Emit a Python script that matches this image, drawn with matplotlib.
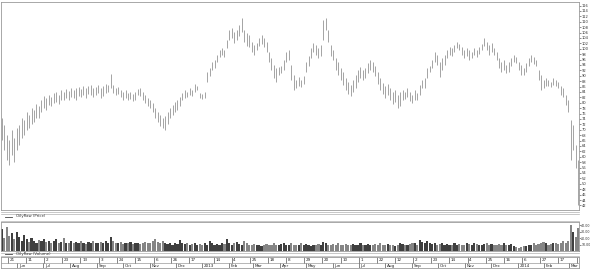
import matplotlib
matplotlib.use("Agg")
import matplotlib.pyplot as plt
import matplotlib.transforms as mtransforms
import numpy as np
import pandas as pd

# price bars, one bar per two trading days (high / low)
highs = [74.3, 71.8, 68.1, 66.2, 69.9, 66.9, 70.6, 71.8, 74.3, 73.6,
         76.6, 75.5, 78.0, 77.3, 79.5, 78.8, 81.0, 82.5, 81.7, 82.9,
         82.1, 83.6, 84.0, 82.9, 84.7, 84.0, 85.1, 84.3, 85.4, 84.7,
         85.4, 85.8, 85.1, 86.2, 85.4, 86.2, 86.6, 85.4, 85.8, 86.6,
         85.4, 86.2, 86.9, 86.6, 90.6, 86.6, 85.4, 85.8, 84.7, 84.0,
         84.7, 83.6, 84.0, 83.2, 84.0, 85.1, 85.4, 84.0, 82.9, 81.7,
         81.0, 79.9, 78.0, 76.6, 75.5, 74.3, 75.1, 76.6, 78.0, 79.2,
         80.3, 81.0, 82.1, 83.6, 84.7, 84.0, 85.4, 84.7, 86.9, 86.2,
         83.6, 83.2, 84.0, 91.4, 92.8, 95.1, 95.8, 97.7, 99.5, 100.2,
         99.5, 103.2, 106.9, 107.6, 106.2, 106.9, 108.8, 111.3, 106.9, 105.8,
         105.1, 102.5, 101.4, 102.1, 103.9, 105.1, 103.9, 102.5, 98.8, 96.5,
         94.0, 92.8, 93.2, 93.6, 95.8, 98.8, 99.5, 94.0, 90.3, 88.4,
         89.5, 88.4, 89.9, 95.1, 97.3, 100.2, 102.1, 101.4, 100.2, 101.4,
         110.6, 111.3, 106.9, 101.4, 99.5, 96.5, 95.1, 92.8, 91.4, 89.1,
         87.7, 86.6, 88.4, 90.3, 92.1, 93.2, 92.1, 92.8, 94.7, 95.8,
         95.1, 93.6, 91.4, 89.1, 87.3, 86.2, 86.9, 85.4, 84.0, 84.7,
         82.9, 84.0, 84.7, 84.0, 85.4, 84.0, 82.9, 84.7, 83.6, 86.6,
         88.4, 89.1, 92.8, 93.6, 95.8, 98.8, 97.7, 95.1, 96.5, 97.7,
         99.5, 100.6, 100.2, 101.4, 102.5, 101.7, 100.6, 99.5, 100.2, 99.5,
         98.8, 100.2, 99.5, 100.6, 101.7, 103.9, 102.5, 101.4, 102.1, 100.2,
         98.8, 96.5, 95.1, 95.8, 94.0, 95.1, 96.5, 97.7, 96.9, 95.1,
         94.0, 92.8, 94.7, 96.5, 97.7, 96.9, 95.8, 92.1, 90.3, 88.4,
         89.1, 88.4, 87.7, 89.1, 88.4, 87.7, 86.2, 85.4, 82.9, 81.0,
         73.6, 71.8, 64.4, 58.8]
lows = [66.2, 62.5, 58.8, 57.0, 60.7, 58.1, 62.5, 64.4, 66.9, 68.1,
        69.9, 70.6, 72.1, 72.9, 74.3, 74.3, 76.6, 78.0, 77.3, 79.2,
        78.8, 79.9, 80.3, 79.5, 81.0, 81.0, 81.7, 81.0, 82.1, 81.7,
        81.0, 82.5, 82.1, 82.9, 81.7, 83.2, 82.9, 82.1, 82.9, 83.6,
        81.7, 82.5, 83.6, 84.0, 85.4, 83.6, 82.9, 83.2, 82.1, 81.0,
        81.7, 81.0, 81.4, 80.6, 81.0, 82.9, 82.5, 81.0, 79.9, 78.8,
        78.0, 76.6, 74.3, 72.9, 71.4, 70.6, 69.9, 72.1, 74.3, 75.5,
        76.6, 77.3, 78.8, 81.0, 81.7, 82.1, 82.9, 82.5, 84.0, 84.7,
        81.7, 81.4, 81.7, 87.7, 89.9, 92.1, 92.8, 95.1, 96.9, 97.7,
        96.9, 100.2, 103.2, 103.9, 102.1, 103.2, 104.7, 106.2, 102.5, 101.0,
        100.6, 98.8, 97.7, 99.5, 101.0, 101.7, 100.6, 98.8, 95.1, 92.1,
        89.1, 87.7, 90.3, 91.0, 92.1, 95.1, 95.8, 88.4, 84.7, 85.4,
        86.2, 85.8, 86.9, 91.4, 93.6, 96.5, 98.8, 97.7, 96.5, 97.3,
        103.2, 106.9, 102.5, 97.3, 95.8, 92.1, 90.3, 88.4, 86.6, 84.7,
        83.2, 82.5, 84.0, 85.4, 87.7, 89.1, 88.4, 89.1, 91.0, 92.1,
        91.4, 89.9, 86.9, 84.7, 83.2, 81.7, 82.9, 81.0, 79.5, 80.3,
        78.0, 78.8, 81.0, 81.4, 82.1, 80.6, 79.9, 81.0, 81.0, 82.9,
        85.4, 85.4, 89.1, 91.4, 92.8, 95.1, 94.0, 89.5, 92.1, 94.0,
        96.5, 97.7, 97.3, 98.8, 100.2, 99.5, 97.7, 96.5, 97.3, 95.8,
        96.5, 97.7, 96.9, 98.0, 99.5, 101.0, 99.5, 97.7, 98.8, 97.7,
        95.8, 92.8, 91.4, 92.1, 91.0, 91.4, 93.6, 95.1, 94.7, 92.1,
        90.3, 90.3, 91.4, 93.6, 95.1, 94.3, 93.6, 88.4, 84.7, 85.4,
        86.2, 86.2, 85.8, 86.6, 86.2, 85.4, 82.9, 82.1, 79.2, 76.6,
        58.8, 62.5, 55.8, 42.2]
# volume, same bars
volumes = [34, 20, 38, 24, 28, 18, 30, 22, 16, 25,
           18, 14, 20, 16, 13, 17, 15, 19, 14, 16,
           13, 15, 18, 12, 14, 20, 13, 12, 15, 13,
           14, 12, 16, 13, 11, 14, 12, 15, 13, 12,
           14, 12, 16, 13, 22, 15, 13, 12, 14, 11,
           13, 12, 14, 11, 12, 13, 11, 12, 14, 12,
           13, 16, 18, 14, 12, 15, 13, 11, 12, 10,
           12, 11, 17, 13, 11, 12, 10, 11, 12, 10,
           11, 9, 12, 10, 16, 12, 10, 11, 9, 12,
           11, 18, 13, 10, 12, 14, 11, 10, 16, 12,
           10, 9, 11, 10, 9, 8, 10, 11, 9, 10,
           12, 10, 9, 11, 13, 10, 9, 12, 10, 9,
           10, 12, 9, 11, 10, 8, 10, 9, 11, 10,
           14, 12, 10, 9, 11, 10, 12, 9, 10, 11,
           10, 9, 11, 10, 9, 12, 10, 9, 11, 10,
           9, 11, 10, 12, 10, 9, 11, 10, 9, 8,
           10, 12, 11, 10, 9, 11, 13, 12, 10, 17,
           14, 12, 16, 13, 11, 12, 10, 11, 12, 10,
           11, 9, 10, 12, 10, 11, 9, 10, 13, 11,
           10, 12, 11, 10, 9, 11, 12, 10, 11, 10,
           9, 11, 10, 12, 9, 10, 11, 8, 6, 5,
           6, 7, 8, 9, 10, 12, 10, 11, 12, 14,
           12, 10, 11, 13, 12, 11, 13, 16, 12, 15,
           41, 30, 22, 35]

start, end = "2012-05-14", "2014-03-12"

day_tick_dates = ["2012-05-21", "2012-06-11", "2012-07-02", "2012-07-23", "2012-08-13",
                  "2012-09-03", "2012-09-24", "2012-10-15", "2012-11-06", "2012-11-26",
                  "2012-12-17", "2013-01-14", "2013-02-04", "2013-02-25", "2013-03-18",
                  "2013-04-08", "2013-04-29", "2013-05-20", "2013-06-10", "2013-07-01",
                  "2013-07-22", "2013-08-12", "2013-09-02", "2013-09-23", "2013-10-14",
                  "2013-11-04", "2013-11-25", "2013-12-16", "2014-01-06", "2014-01-27",
                  "2014-02-17", "2014-03-11"]
day_tick_labels = ["21", "11", "2", "23", "13", "3", "24", "15", "6", "26", "17",
                   "14", "4", "25", "18", "8", "29", "20", "10", "1", "22", "12",
                   "2", "23", "14", "4", "25", "16", "6", "27", "17", "11"]
month_labels = ["Jun", "Jul", "Aug", "Sep", "Oct", "Nov", "Dec", "2013", "Feb", "Mar",
                "Apr", "May", "Jun", "Jul", "Aug", "Sep", "Oct", "Nov", "Dec", "2014",
                "Feb", "Mar"]

dates = pd.date_range(start, end, periods=len(highs))
month_starts = pd.date_range("2012-06-01", periods=len(month_labels), freq="MS")

W, H = 590, 269
GRAY = "#9a9a9a"
RIGHT = 579


def box(x0, y0, x1, y1):
    return [x0 / W, 1 - y1 / H, (x1 - x0) / W, (y1 - y0) / H]


fig = plt.figure(figsize=(W / 100, H / 100), dpi=100)
fig.patch.set_facecolor("white")

ax_p = fig.add_axes(box(1, 2, RIGHT, 210))
ax_v = fig.add_axes(box(1, 222, RIGHT, 251), sharex=ax_p)
ax_d = fig.add_axes(box(1, 257, RIGHT, 268), sharex=ax_p)

xmin, xmax = pd.Timestamp("2012-05-13"), pd.Timestamp("2014-03-13")

# price
ax_p.vlines(dates, lows, highs, color="#8c8c8c", lw=0.55)
ax_p.set_ylim(40.3, 117.3)
ax_p.yaxis.tick_right()
ax_p.set_yticks(np.arange(42, 117, 2))
ax_p.tick_params(axis="y", labelsize=2.6, length=1.5, width=0.4, pad=0.6, colors="#333333")
ax_p.tick_params(axis="x", bottom=False, labelbottom=False)

# volume
mid = (np.array(highs) + np.array(lows)) / 2
vcol = ["#3f3f3f" if i == 0 or mid[i] >= mid[i - 1] else "#858585" for i in range(len(mid))]
ax_v.bar(dates, volumes, width=2.5, color=vcol, linewidth=0)
ax_v.set_ylim(0, 45)
ax_v.yaxis.tick_right()
ax_v.set_yticks([10, 20, 30, 40])
ax_v.set_yticklabels(["10.00", "20.00", "30.00", "40.00"])
ax_v.tick_params(axis="y", labelsize=2.3, length=1.2, width=0.4, pad=0.4, colors="#333333")
ax_v.tick_params(axis="x", bottom=False, labelbottom=False)

for ax in (ax_p, ax_v, ax_d):
    for s in ax.spines.values():
        s.set_color(GRAY)
        s.set_linewidth(0.6)
    ax.set_xlim(xmin, xmax)

# date strip
ax_d.set_ylim(0, 2)
ax_d.set_yticks([])
ax_d.tick_params(axis="x", bottom=False, labelbottom=False)
ax_d.axhline(1, color=GRAY, lw=0.5)
tdates = pd.to_datetime(day_tick_dates)
ax_d.vlines(tdates, 1, 2, color="#555555", lw=0.5)
ax_d.vlines(month_starts, 0, 1, color="#555555", lw=0.5)
off = mtransforms.offset_copy(ax_d.transData, fig=fig, x=1.2, y=0, units="points")
for d, lab in zip(tdates, day_tick_labels):
    ax_d.text(d, 1.45, lab, transform=off, fontsize=3, va="center", ha="left",
              color="#222222", clip_on=True)
for d, lab in zip(month_starts, month_labels):
    ax_d.text(d, 0.45, lab, transform=off, fontsize=3, va="center", ha="left",
              color="#222222", clip_on=True)

# separators and legend strips
for y in (211.5, 213.5, 220.5, 252.5, 255.5):
    fig.add_artist(plt.Line2D([1 / W, RIGHT / W], [1 - y / H, 1 - y / H], color="#b0b0b0", lw=0.5))
for y, lab in ((216.5, "OilyRaw (Price)"), (254.3, "OilyRaw (Volume)")):
    fig.add_artist(plt.Line2D([5 / W, 12 / W], [1 - y / H, 1 - y / H], color="#444444", lw=0.6))
    fig.text(16 / W, 1 - y / H, lab, fontsize=2.8, va="center", ha="left", color="#333333")

fig.savefig("out.png", dpi=100, facecolor="white")
